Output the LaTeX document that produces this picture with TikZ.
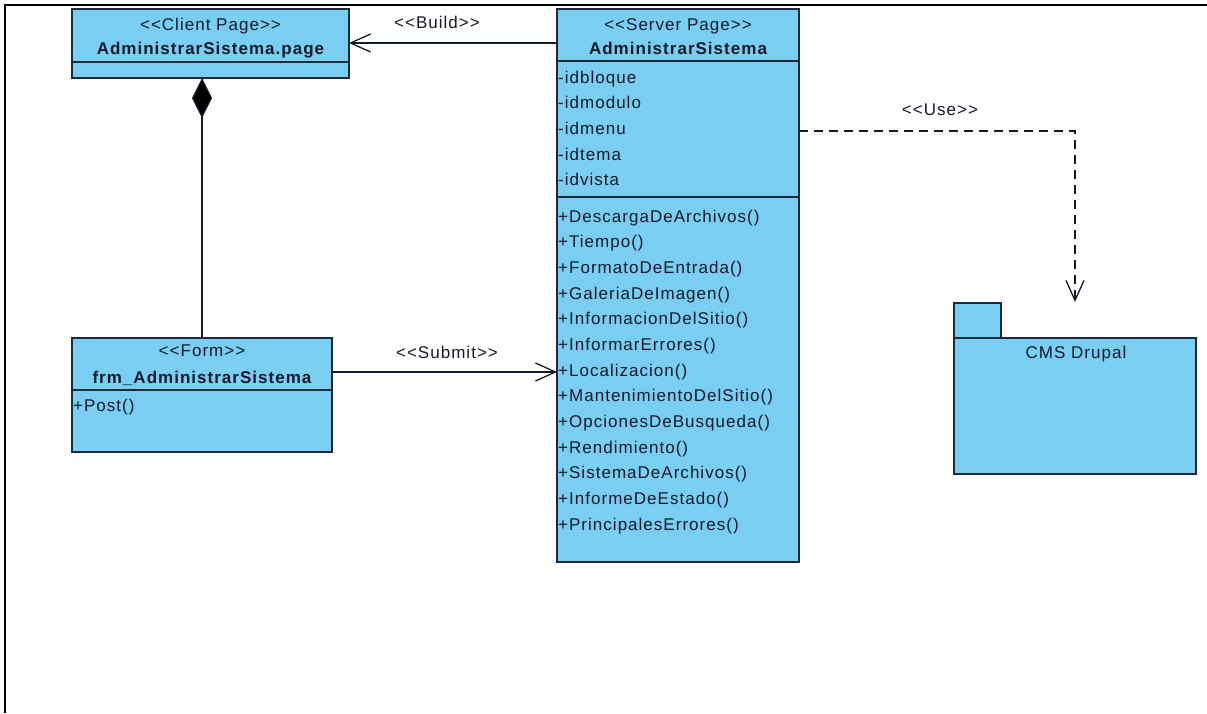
\documentclass[tikz,border=0pt]{standalone}
\usepackage{fontspec}
\setmainfont{Liberation Sans}[LetterSpace=6]
\usetikzlibrary{arrows.meta,calc}
\definecolor{umlfill}{RGB}{122,206,242}
\definecolor{umlline}{RGB}{30,42,60}
\definecolor{umltext}{RGB}{20,26,40}
% stereotype brackets, kept apart so they are not joined into guillemets
\newcommand{\stlt}{<{}<}
\newcommand{\stgt}{>{}>}
\begin{document}
\begin{tikzpicture}[x=1pt,y=-1pt,
  box/.style={draw=umlline,fill=umlfill,line width=1.4pt,anchor=north west,
    inner sep=0pt,outer sep=0pt},
  txt/.style={font=\fontsize{17}{19}\selectfont,text=umltext,inner sep=0pt,anchor=base},
  bold/.style={txt,font=\fontsize{17}{19}\selectfont\bfseries},
  member/.style={txt,anchor=base west},
  sep/.style={draw=umlline,line width=1.4pt},
  conn/.style={draw=umltext,line width=1.3pt},
  opentip/.style={-{Straight Barb[length=20pt,width=18pt,line width=1.3pt]}},
  compo/.style={-{Diamond[length=40pt,width=20pt,fill=black]}}
]
\useasboundingbox (0,0) rectangle (1207,713);
\fill[white] (0,0) rectangle (1207,713);
% outer frame (top and left edges only)
\draw[line width=2.2pt] (5,713) -- (5,5) -- (1207,5);

% client page class
\node[box,minimum width=277pt,minimum height=69pt] (client) at (72,9) {};
\draw[sep] (72,62) -- (349,62);
\node[txt] (clientst) at (210.5,30) {\stlt Client Page\stgt};
\node[bold] (clientnm) at (210.5,54) {AdministrarSistema.page};

% server page class
\node[box,minimum width=242pt,minimum height=553pt] (server) at (557,9) {};
\draw[sep] (557,61) -- (799,61);
\draw[sep] (557,197) -- (799,197);
\node[txt] (serverst) at (678,30) {\stlt Server Page\stgt};
\node[bold] (servernm) at (678,54) {AdministrarSistema};
\foreach \t [count=\i from 0] in {-idbloque,-idmodulo,-idmenu,-idtema,-idvista}
  \node[member] (attr\i) at (558,83+25.67*\i) {\t};
\foreach \t [count=\i from 0] in {+DescargaDeArchivos(),+Tiempo(),+FormatoDeEntrada(),
    +GaleriaDeImagen(),+InformacionDelSitio(),+InformarErrores(),+Localizacion(),
    +MantenimientoDelSitio(),+OpcionesDeBusqueda(),+Rendimiento(),
    +SistemaDeArchivos(),+InformeDeEstado(),+PrincipalesErrores()}
  \node[member] (op\i) at (558,222+25.67*\i) {\t};

% form class
\node[box,minimum width=260pt,minimum height=114pt] (form) at (72,338) {};
\draw[sep] (72,390) -- (332,390);
\node[txt] (formst) at (202,356) {\stlt Form\stgt};
\node[bold] (formnm) at (202,383) {frm\_AdministrarSistema};
\node[member] (post) at (73,411) {+Post()};

% CMS Drupal package
\node[box,minimum width=47pt,minimum height=35pt] (tab) at (954,303) {};
\node[box,minimum width=242pt,minimum height=136pt] (drupal) at (954,338) {};
\node[txt] (drupalnm) at (1076,358) {CMS Drupal};

% connectors
\draw[conn,compo] (form.north) -- (form.north |- client.south);
\draw[conn,opentip] (server.west |- 0,43) -- (client.east |- 0,43);
\node[txt] (buildlbl) at (437,28) {\stlt Build\stgt};
\draw[conn,opentip] (form.east |- 0,372) -- (server.west |- 0,372);
\node[txt] (submitlbl) at (447,358) {\stlt Submit\stgt};
\coordinate (usetip) at (1075,302);
\draw[conn,opentip,dash pattern=on 9pt off 6pt] (server.east |- 0,131) -| (usetip);
\node[txt] (uselbl) at (940,115) {\stlt Use\stgt};
\end{tikzpicture}
\end{document}
